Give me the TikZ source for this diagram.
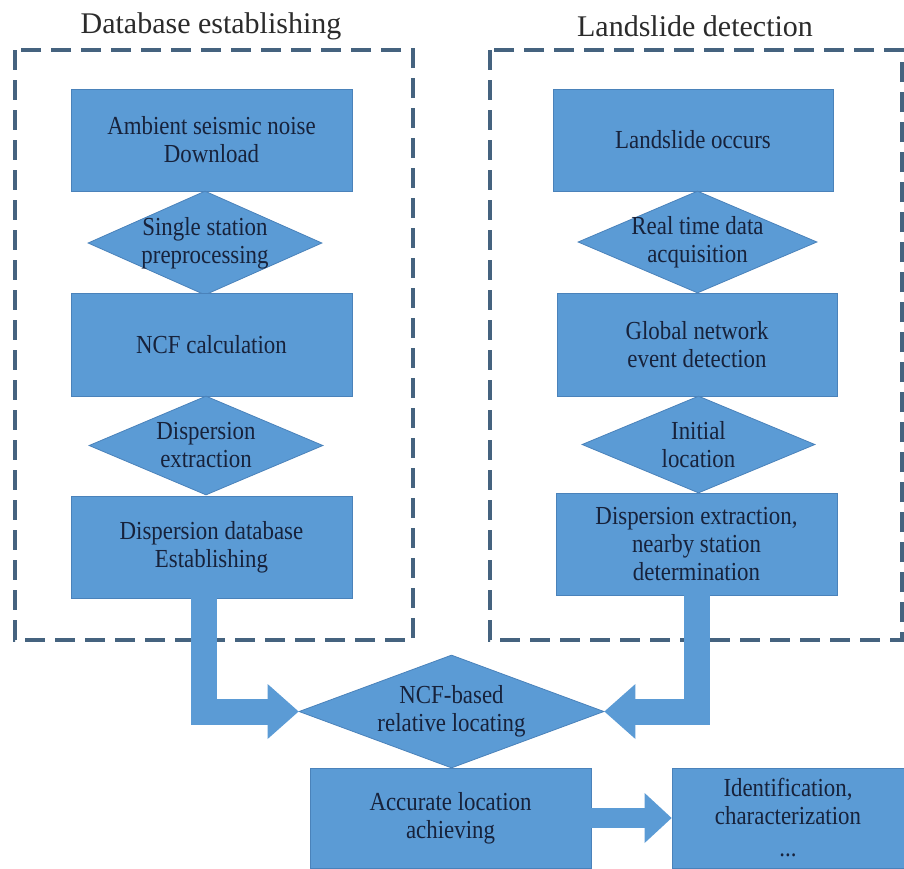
\documentclass[tikz,border=0pt]{standalone}
\usepackage{fontspec}
\setmainfont{Liberation Serif}
\newfontfamily\boxfont[FakeStretch=0.88]{Liberation Serif}
\usetikzlibrary{shapes.geometric,arrows.meta}
\definecolor{boxblue}{HTML}{5B9BD5}
\definecolor{boxedge}{HTML}{4A82BA}
\definecolor{frameblue}{HTML}{45637F}
\definecolor{txtnavy}{HTML}{17223B}
\definecolor{titlegray}{HTML}{2B2B2B}
\tikzset{
  procbox/.style={rectangle, fill=boxblue, draw=boxedge, line width=0.8pt, inner sep=0pt,
    align=center, text=txtnavy, font=\boxfont\fontsize{26}{28}\selectfont},
  decision/.style={diamond, fill=boxblue, draw=boxedge, line width=0.8pt, inner sep=0pt},
  dlabel/.style={align=center, text=txtnavy, font=\boxfont\fontsize{26}{28}\selectfont, inner sep=0pt},
  framebox/.style={draw=frameblue, line width=4pt, dash pattern=on 20pt off 10pt},
  titletext/.style={text=titlegray, font=\fontsize{30}{34}\selectfont, inner sep=0pt},
  blockarrow/.style={draw=boxblue, line width=26pt, line join=miter,
    -{Triangle[length=31pt,width=55pt,line width=0pt]}},
  smallarrow/.style={draw=boxblue, line width=20pt,
    -{Triangle[length=27pt,width=50pt,line width=0pt]}},
}
\begin{document}
\begin{tikzpicture}[x=1pt,y=-1pt]
\useasboundingbox (0,0) rectangle (904,868);
\fill[white] (0,0) rectangle (904,868);

% titles
\node[titletext] (T1) at (211,26) {Database establishing};
\node[titletext] (T2) at (695,26) {Landslide detection};

% dashed frames
\draw[framebox] (15,50) rectangle (413,640);
\draw[framebox] (490,50) rectangle (902,640);

% left column
\node[procbox, minimum width=281pt, minimum height=102pt] (LB1) at (211.5,140) {Ambient seismic noise\\Download};
\node[decision, minimum width=234pt, minimum height=104pt,
  label={[dlabel]center:{Single station\\preprocessing}}] (LD1) at (205,243) {};
\node[procbox, minimum width=281pt, minimum height=103pt] (LB2) at (211.5,344.5) {NCF calculation};
\node[decision, minimum width=234pt, minimum height=99pt,
  label={[dlabel]center:{Dispersion\\extraction}}] (LD2) at (206,445.5) {};
\node[procbox, minimum width=281pt, minimum height=102pt] (LB3) at (211.5,547) {Dispersion database\\Establishing};

% right column
\node[procbox, minimum width=280pt, minimum height=102pt] (RB1) at (693,140) {Landslide occurs};
\node[decision, minimum width=239pt, minimum height=102pt,
  label={[dlabel]center:{Real time data\\acquisition}}] (RD1) at (697.5,242) {};
\node[procbox, minimum width=280pt, minimum height=103pt] (RB2) at (697,344.5) {Global network\\event detection};
\node[decision, minimum width=233pt, minimum height=97pt,
  label={[dlabel]center:{Initial\\location}}] (RD2) at (698.5,444.5) {};
\node[procbox, minimum width=281pt, minimum height=102pt] (RB3) at (696.5,544) {Dispersion extraction,\\nearby station\\determination};

% bottom
\node[decision, minimum width=305pt, minimum height=113pt,
  label={[dlabel]center:{NCF-based\\relative locating}}] (ND) at (451.5,711.5) {};
\node[procbox, minimum width=281pt, minimum height=100pt] (AB) at (450.5,818) {Accurate location\\achieving};
\node[procbox, minimum width=232pt, minimum height=100pt] (IB) at (788,818) {Identification,\\characterization\\[4pt]...};

% block arrows
\draw[blockarrow] ([xshift=-7.5pt]LB3.south) |- (ND.west);
\draw[blockarrow] (RB3.south) |- (ND.east);
\draw[smallarrow] (AB.east) -- (IB.west);
\end{tikzpicture}
\end{document}
